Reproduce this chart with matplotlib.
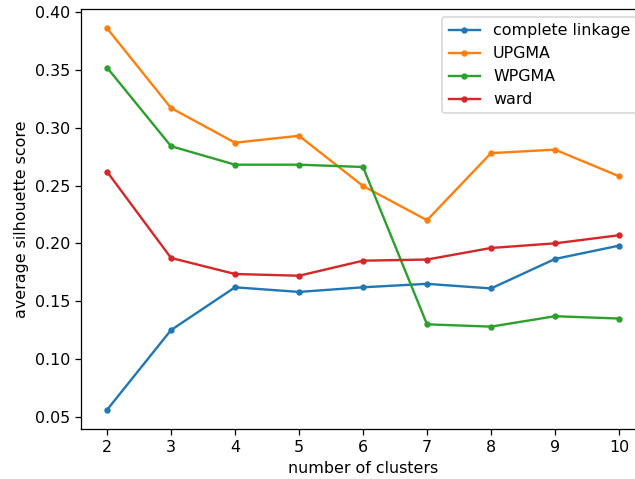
import numpy as np
import matplotlib.pyplot as plt

n_clusters = [2, 3, 4, 5, 6, 7, 8, 9, 10]

complete_linkage = [0.056, 0.125, 0.162, 0.158, 0.162, 0.165, 0.161, 0.1865, 0.198]
upgma = [0.386, 0.317, 0.287, 0.293, 0.2496, 0.220, 0.278, 0.281, 0.258]
wpgma = [0.352, 0.284, 0.268, 0.268, 0.266, 0.130, 0.128, 0.137, 0.135]
ward = [0.262, 0.1874, 0.1735, 0.172, 0.185, 0.186, 0.196, 0.200, 0.207]

series = [
    ("complete linkage", complete_linkage),
    ("UPGMA", upgma),
    ("WPGMA", wpgma),
    ("ward", ward),
]

# original was rendered a bit larger and cropped on the right
dpi = 114
W, H = 635, 479
fig = plt.figure(figsize=(W / dpi, H / dpi), dpi=dpi)
ax = fig.add_axes([81.4 / W, (H - 429) / H, (644.6 - 81.4) / W, (429 - 9.1) / H])
for label, vals in series:
    ax.plot(n_clusters, vals, marker='.', label=label)

ax.set_xlabel('number of clusters')
ax.set_ylabel('average silhouette score')
ax.legend(loc='upper right')
fig.savefig('out.png', dpi=dpi)
